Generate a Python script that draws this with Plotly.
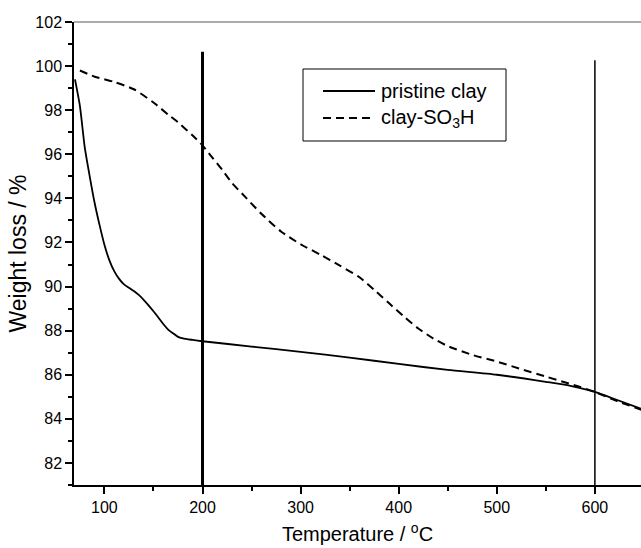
import plotly.graph_objects as go

# ---- data ----
pristine_temp = [70, 75, 80, 85, 90, 95, 100, 105, 110, 115, 120, 125, 130, 135, 140, 145,
                 150, 155, 160, 165, 170, 175, 180, 190, 200, 250, 300, 350, 400, 450,
                 500, 550, 575, 600, 620, 648]
pristine_wt = [99.4, 98.2, 96.3, 95.0, 93.8, 92.8, 91.9, 91.2, 90.7, 90.35, 90.1, 89.95,
               89.8, 89.62, 89.4, 89.15, 88.88, 88.6, 88.3, 88.05, 87.88, 87.72, 87.65,
               87.58, 87.52, 87.28, 87.04, 86.78, 86.49, 86.22, 86.0, 85.68, 85.5, 85.22,
               84.9, 84.44]

so3h_temp = [75, 90, 110, 130, 150, 165, 175, 190, 200, 210, 220, 230, 245, 260, 280, 300,
             320, 340, 360, 375, 390, 405, 420, 435, 450, 475, 500, 525, 550, 570, 585,
             600, 620, 648]
so3h_wt = [99.8, 99.52, 99.28, 98.95, 98.35, 97.8, 97.45, 96.85, 96.4, 95.85, 95.3, 94.7,
           94.0, 93.3, 92.5, 91.92, 91.45, 90.95, 90.42, 89.85, 89.25, 88.65, 88.1, 87.65,
           87.3, 86.9, 86.6, 86.25, 85.92, 85.65, 85.45, 85.22, 84.85, 84.4]

series_names = ["pristine clay", "clay-SO<sub>3</sub>H"]

marker_temps = [200, 600]
marker_tops = [100.65, 100.27]
marker_widths = [3, 1.5]

x_ticks = [100, 200, 300, 400, 500, 600]
y_ticks = [82, 84, 86, 88, 90, 92, 94, 96, 98, 100, 102]

FONT = "Liberation Sans, Arial, sans-serif"

fig = go.Figure()
fig.add_trace(go.Scatter(x=pristine_temp, y=pristine_wt, mode="lines",
                         line=dict(color="black", width=1.8, shape="spline", smoothing=0.6),
                         name=series_names[0], showlegend=False))
fig.add_trace(go.Scatter(x=so3h_temp, y=so3h_wt, mode="lines",
                         line=dict(color="black", width=2, dash="8px,5px", shape="spline", smoothing=0.6),
                         name=series_names[1], showlegend=False))

shapes = []
for t, top, w in zip(marker_temps, marker_tops, marker_widths):
    shapes.append(dict(type="line", xref="x", yref="y", x0=t, x1=t, y0=81, y1=top,
                       line=dict(color="black", width=w)))
# grey top frame line
shapes.append(dict(type="line", xref="paper", yref="paper", x0=0, x1=1, y0=1, y1=1,
                   line=dict(color="#8f8f8f", width=1.5)))

# manual legend (pixel layout converted to paper coords)
W, H = 641, 548
L, R, T, B = 74, 0, 22, 63
pw, ph = W - L - R, H - T - B
def px(xp):
    return (xp - L) / pw
def py(yp):
    return 1 - (yp - T) / ph

shapes.append(dict(type="rect", xref="paper", yref="paper",
                   x0=px(303), x1=px(506), y0=py(141), y1=py(69),
                   line=dict(color="black", width=1), fillcolor="white", layer="above"))
shapes.append(dict(type="line", xref="paper", yref="paper", x0=px(323), x1=px(375),
                   y0=py(91), y1=py(91), line=dict(color="black", width=1.8)))
shapes.append(dict(type="line", xref="paper", yref="paper", x0=px(323), x1=px(375),
                   y0=py(118), y1=py(118), line=dict(color="black", width=2, dash="8px,5px")))

annotations = [
    dict(xref="paper", yref="paper", x=px(379), y=py(91), text=series_names[0],
         showarrow=False, xanchor="left", yanchor="middle",
         font=dict(family=FONT, size=20, color="black")),
    dict(xref="paper", yref="paper", x=px(379), y=py(118), text=series_names[1],
         showarrow=False, xanchor="left", yanchor="middle",
         font=dict(family=FONT, size=20, color="black")),
]

fig.update_layout(
    width=W, height=H,
    margin=dict(l=L, r=R, t=T, b=B),
    paper_bgcolor="white", plot_bgcolor="white",
    font=dict(family=FONT, color="black"),
    shapes=shapes, annotations=annotations,
    showlegend=False,
)

fig.update_xaxes(
    range=[69, 647], tickvals=x_ticks, ticktext=[str(v) for v in x_ticks],
    showgrid=False, zeroline=False, showline=True, linecolor="black", linewidth=1.5,
    ticks="outside", ticklen=7, tickwidth=1.5, tickcolor="black",
    minor=dict(dtick=50, tick0=0, ticks="outside", ticklen=4, tickwidth=1.5, tickcolor="black", showgrid=False),
    tickfont=dict(family=FONT, size=16, color="black"),
    title=dict(text="Temperature / <sup>o</sup>C", font=dict(family=FONT, size=20, color="black"), standoff=12),
)
fig.update_yaxes(
    range=[81, 102], tickvals=y_ticks, ticktext=[str(v) for v in y_ticks],
    showgrid=False, zeroline=False, showline=True, linecolor="black", linewidth=1.5,
    ticks="outside", ticklen=7, tickwidth=1.5, tickcolor="black",
    minor=dict(dtick=1, tick0=0, ticks="outside", ticklen=4, tickwidth=1.5, tickcolor="black", showgrid=False),
    tickfont=dict(family=FONT, size=16, color="black"),
    title=dict(text="Weight loss / %", font=dict(family=FONT, size=23, color="black"), standoff=2),
)

fig.write_html("out.html", config={"displayModeBar": False})

# remove the default page margin so the figure fills the 641x548 window exactly
with open("out.html", "r", encoding="utf-8") as f:
    html = f.read()
html = html.replace("<head>", "<head><style>html,body{margin:0;padding:0;overflow:hidden;}</style>", 1)
with open("out.html", "w", encoding="utf-8") as f:
    f.write(html)
